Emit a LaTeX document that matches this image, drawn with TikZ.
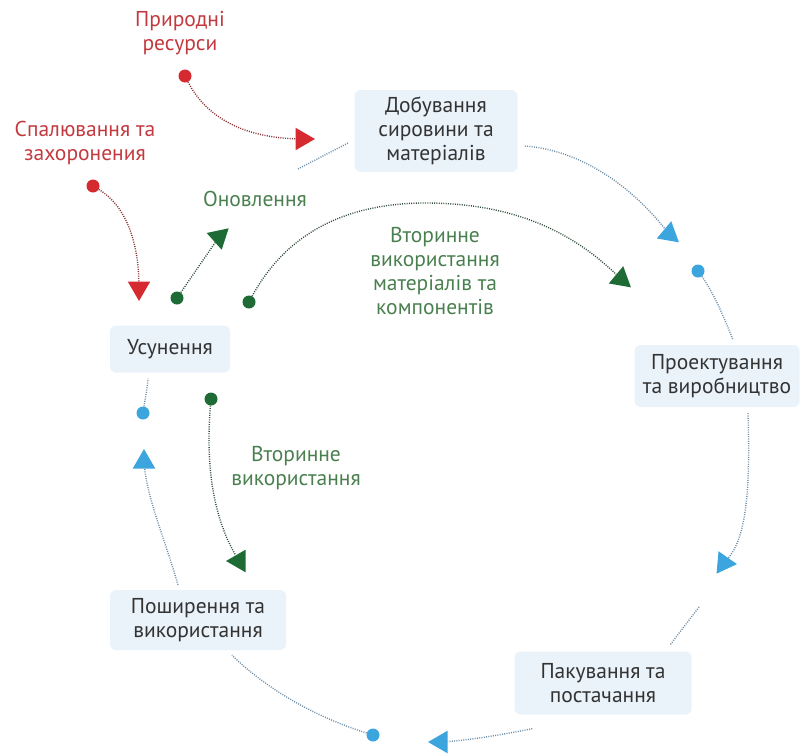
\documentclass[tikz,border=0pt]{standalone}
\usepackage{fontspec}
\setmainfont{PT Sans}
\usetikzlibrary{shapes.geometric,calc}
\definecolor{boxfill}{HTML}{EAF3FA}
\definecolor{textgray}{HTML}{333333}
\definecolor{redtext}{HTML}{C23A3F}
\definecolor{redmark}{HTML}{D42A30}
\definecolor{greentext}{HTML}{4A8050}
\definecolor{greenmark}{HTML}{1E6B35}
\definecolor{bluemark}{HTML}{3DA5DE}
\definecolor{blueline}{HTML}{6F8FA8}
\definecolor{greenline}{HTML}{34503C}
\definecolor{redline}{HTML}{8A2F33}
\tikzset{
  stage/.style={fill=boxfill, rounded corners=6pt, text=textgray, align=center, inner sep=0pt,
    font=\fontsize{21.5}{24}\selectfont},
  redlabel/.style={text=redtext, align=center, font=\fontsize{21.5}{24}\selectfont},
  greenlabel/.style={text=greentext, align=center, font=\fontsize{21.5}{24}\selectfont},
  dotmark/.style={circle, fill=#1, minimum size=13pt, inner sep=0pt},
  trimark/.style={regular polygon, regular polygon sides=3, fill=#1, minimum size=26pt, inner sep=0pt},
  flow/.style={draw=#1, line width=1.4pt, dash pattern=on 1pt off 1.3pt},
}
\begin{document}
\begin{tikzpicture}[x=1pt,y=-1pt]
\useasboundingbox (0,0) rectangle (805,755);

% stage boxes
\node[stage, minimum width=163pt, minimum height=82pt] (dob) at (436,131) {Добування\\сировини та\\матеріалів};
\node[stage, minimum width=165pt, minimum height=62pt] (proj) at (717,376) {Проектування\\та виробництво};
\node[stage, minimum width=177pt, minimum height=63pt] (pak) at (603,683) {Пакування та\\постачання};
\node[stage, minimum width=176pt, minimum height=60pt] (posh) at (198,620) {Поширення та\\використання};
\node[stage, minimum width=120pt, minimum height=47pt] (usun) at (170,349) {Усунення};

% labels
\node[redlabel] (pryr) at (180,33) {Природні\\ресурси};
\node[redlabel] (spal) at (85,143) {Спалювання та\\захоронения};
\node[greenlabel] (onov) at (255,199) {Оновлення};
\node[greenlabel] (vtm) at (435,271) {Вторинне\\використання\\матеріалів та\\компонентів};
\node[greenlabel] (vtv) at (296,468) {Вторинне\\використання};

% dots
\node[dotmark=redmark] (r1) at (185,76) {};
\node[dotmark=redmark] (r2) at (93,186) {};
\node[dotmark=greenmark] (g1) at (177,298) {};
\node[dotmark=greenmark] (g2) at (249,302) {};
\node[dotmark=greenmark] (g3) at (211,399) {};
\node[dotmark=bluemark] (b1) at (698,271) {};
\node[dotmark=bluemark] (b2) at (143,413) {};
\node[dotmark=bluemark] (b3) at (373,735) {};

% triangles
\node[trimark=redmark, rotate=-90] (tr1) at (302,139) {};
\node[trimark=redmark, rotate=180] (tr2) at (139,288) {};
\node[trimark=greenmark, rotate=-48] (tg1) at (219,237) {};
\node[trimark=greenmark, rotate=-10] (tg2) at (621,279) {};
\node[trimark=greenmark, rotate=90] (tg3) at (239,561) {};
\node[trimark=bluemark, rotate=-10] (tb1) at (669,234) {};
\node[trimark=bluemark, rotate=-95] (tb2) at (724,563) {};
\node[trimark=bluemark, rotate=90] (tb3) at (441,742) {};
\node[trimark=bluemark, rotate=0] (tb4) at (144,462) {};

% free ends of faint fragments
\coordinate (fa1) at (298,169);
\coordinate (fa2) at (348,143);
\coordinate (fb1) at (699,607);
\coordinate (fb2) at (670,645);

% red flows
\draw[flow=redline] (r1) .. controls (205,115) and (240,137) .. (tr1);
\draw[flow=redline] (r2) .. controls (125,205) and (138,240) .. (tr2);

% green flows
\draw[flow=greenline] (g1) -- (tg1);
\draw[flow=greenline] (g2) .. controls (280,245) and (330,205) .. (420,203)
   .. controls (510,202) and (570,230) .. (tg2);
\draw[flow=greenline] (g3) .. controls (205,470) and (215,520) .. (tg3);

% blue cycle
\draw[flow=blueline] ($(dob.east)+(7,15)$) .. controls (580,150) and (630,185) .. (tb1);
\draw[flow=blueline] (b1) .. controls (715,295) and (725,320) .. ($(proj.north)+(16,-5)$);
\draw[flow=blueline] ($(proj.south)+(31,6)$) .. controls (750,480) and (748,535) .. (tb2);
\draw[flow=blueline] (fb1) -- (fb2);
\draw[flow=blueline] ($(pak.south west)+(18,14)$) .. controls (500,735) and (470,740) .. (tb3);
\draw[flow=blueline] (b3) .. controls (300,712) and (255,678) .. ($(posh.south)+(34,5)$);
\draw[flow=blueline] ($(posh.north)+(-20,-5)$) .. controls (165,540) and (148,500) .. (tb4);
\draw[flow=blueline] (b2) .. controls (145,400) and (147,390) .. ($(usun.south)+(-22,6)$);
\draw[flow=blueline] (fa1) -- (fa2);
\end{tikzpicture}
\end{document}
